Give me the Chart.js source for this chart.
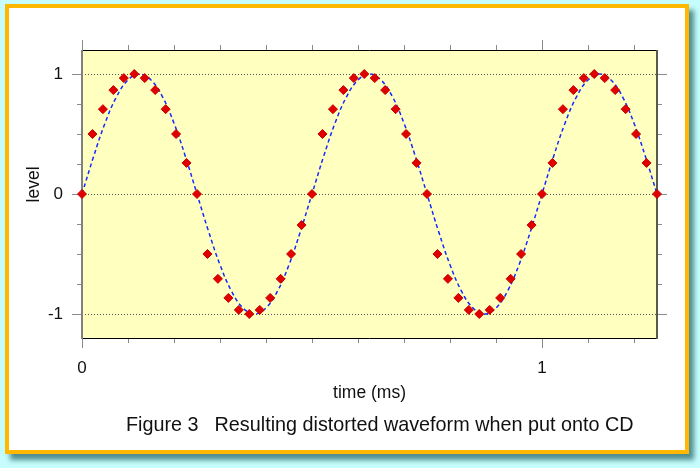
<!DOCTYPE html>
<html>
<head>
<meta charset="utf-8">
<script src="https://cdn.jsdelivr.net/npm/chart.js@4.4.1/dist/chart.umd.min.js"></script>
<style>
  html, body { margin: 0; padding: 0; }
  body { width: 700px; height: 468px; background: #c6fcfc; position: relative; overflow: hidden;
         font-family: 'Liberation Sans', Arial, Helvetica, sans-serif; }
  .frame { position: absolute; left: 5px; top: 4px; width: 676px; height: 442px;
           border: 4px solid #ffb700; background: #fff; box-shadow: 5px 6px 5px #4f8f8f; }
  #wave { position: absolute; left: 0; top: 0; }
  .caption { position: absolute; left: 126px; top: 414px; font-size: 19.8px; line-height: 20px;
             color: #111; white-space: pre; }
</style>
</head>
<body>
<div class="frame"></div>
<canvas id="wave" width="700" height="468"></canvas>
<div class="caption">Figure 3<span style="margin-left:16px">Resulting distorted waveform when put onto CD</span></div>
<script>
// time axis in ms, level is normalised
const sampleStep = 0.5 / 22;   // spacing of the CD samples
const curveStep = 0.025;       // spacing used for the ideal sine

const sampleLevels = [
  0, 0.5, 0.707, 0.866, 0.966, 1, 0.966, 0.866, 0.707, 0.5, 0.259, 0,
  -0.5, -0.707, -0.866, -0.966, -1, -0.966, -0.866, -0.707, -0.5, -0.259, 0,
  0.5, 0.707, 0.866, 0.966, 1, 0.966, 0.866, 0.707, 0.5, 0.259, 0,
  -0.5, -0.707, -0.866, -0.966, -1, -0.966, -0.866, -0.707, -0.5, -0.259, 0,
  0.259, 0.707, 0.866, 0.966, 1, 0.966, 0.866, 0.707, 0.5, 0.259, 0
];

const curveLevels = [
  0, 0.31, 0.59, 0.81, 0.95, 1, 0.95, 0.81, 0.59, 0.31,
  0, -0.31, -0.59, -0.81, -0.95, -1, -0.95, -0.81, -0.59, -0.31,
  0, 0.31, 0.59, 0.81, 0.95, 1, 0.95, 0.81, 0.59, 0.31,
  0, -0.31, -0.59, -0.81, -0.95, -1, -0.95, -0.81, -0.59, -0.31,
  0, 0.31, 0.59, 0.81, 0.95, 1, 0.95, 0.81, 0.59, 0.31, 0
];

const xTicks = [0, 0.1, 0.2, 0.3, 0.4, 0.5, 0.6, 0.7, 0.8, 0.9, 1, 1.1, 1.2];
const xLabels = [0, 1];
const yTicks = [-1, -0.75, -0.5, -0.25, 0, 0.25, 0.5, 0.75, 1];
const yLabels = [-1, 0, 1];
const yTitle = 'level';

const FONT = "'Liberation Sans', Arial, Helvetica, sans-serif";

// plot frame: yellow panel, dotted level lines, tick marks on all four sides
const framePlugin = {
  id: 'frame',
  beforeDraw(chart) {
    const { ctx, chartArea: a } = chart;
    ctx.save();
    ctx.fillStyle = '#ffffbf';
    ctx.fillRect(a.left, a.top, a.right - a.left, a.bottom - a.top);
    ctx.restore();
  },
  beforeDatasetsDraw(chart) {
    const { ctx, chartArea: a, scales } = chart;
    const xs = scales.x, ys = scales.y;
    ctx.save();
    ctx.lineWidth = 1;

    ctx.strokeStyle = '#555';
    ctx.setLineDash([1, 2]);
    yLabels.forEach(v => {
      const y = Math.round(ys.getPixelForValue(v)) + 0.5;
      ctx.beginPath(); ctx.moveTo(a.left, y); ctx.lineTo(a.right, y); ctx.stroke();
    });
    ctx.setLineDash([]);

    ctx.strokeStyle = '#8a8a8a';
    xTicks.forEach(v => {
      const x = Math.round(xs.getPixelForValue(v)) + 0.5;
      const len = xLabels.includes(v) ? 10 : 5;
      ctx.beginPath();
      ctx.moveTo(x, a.top - len); ctx.lineTo(x, a.top);
      ctx.moveTo(x, a.bottom); ctx.lineTo(x, a.bottom + len);
      ctx.stroke();
    });
    yTicks.forEach(v => {
      const y = Math.round(ys.getPixelForValue(v)) + 0.5;
      const len = yLabels.includes(v) ? 10 : 5;
      ctx.beginPath();
      ctx.moveTo(a.left - len, y); ctx.lineTo(a.left, y);
      ctx.moveTo(a.right, y); ctx.lineTo(a.right + len, y);
      ctx.stroke();
    });

    ctx.strokeStyle = '#000';
    ctx.beginPath();
    ctx.moveTo(a.left, a.top + 0.5); ctx.lineTo(a.right, a.top + 0.5);
    ctx.moveTo(a.left, a.bottom + 0.5); ctx.lineTo(a.right, a.bottom + 0.5);
    ctx.stroke();

    ctx.lineWidth = 2;
    ctx.strokeStyle = '#808080';
    ctx.beginPath(); ctx.moveTo(a.left, a.top); ctx.lineTo(a.left, a.bottom + 1); ctx.stroke();
    ctx.strokeStyle = '#5a5a48';
    ctx.beginPath(); ctx.moveTo(a.right, a.top); ctx.lineTo(a.right, a.bottom + 1); ctx.stroke();
    ctx.restore();
  },
  afterDraw(chart) {
    // y title sits a little above the axis middle in the original
    const { ctx, scales } = chart;
    const ys = scales.y;
    ctx.save();
    ctx.translate(34, ys.getPixelForValue(0.08));
    ctx.rotate(-Math.PI / 2);
    ctx.font = '17.5px ' + FONT;
    ctx.fillStyle = '#111';
    ctx.textAlign = 'center';
    ctx.textBaseline = 'middle';
    ctx.fillText(yTitle, 0, 0);
    ctx.restore();
  }
};

new Chart(document.getElementById('wave'), {
  type: 'scatter',
  data: {
    datasets: [
      {
        label: 'sine',
        data: curveLevels.map((v, i) => ({ x: i * curveStep, y: v })),
        showLine: true,
        borderColor: '#1428ff',
        borderWidth: 1.5,
        borderDash: [4, 3],
        tension: 0.4,
        pointRadius: 0,
        fill: false,
        order: 2
      },
      {
        label: 'samples',
        data: sampleLevels.map((v, i) => ({ x: i * sampleStep, y: v })),
        pointStyle: 'rectRot',
        pointRadius: 4.5,
        backgroundColor: '#e00000',
        borderColor: '#c80000',
        borderWidth: 1,
        clip: false,
        order: 1
      }
    ]
  },
  options: {
    responsive: false,
    animation: false,
    layout: { padding: { left: 24, top: 50, right: 43, bottom: 64 } },
    plugins: { legend: { display: false }, tooltip: { enabled: false } },
    scales: {
      x: {
        type: 'linear',
        min: 0,
        max: 1.25,
        afterBuildTicks: s => { s.ticks = xTicks.map(v => ({ value: v })); },
        afterFit: s => { s.height = 66; },
        grid: { display: false, drawTicks: false },
        border: { display: false },
        ticks: {
          autoSkip: false, maxRotation: 0, padding: 20, color: '#111',
          font: { family: FONT, size: 17 },
          callback: v => xLabels.includes(v) ? String(v) : ''
        },
        title: { display: true, text: 'time (ms)', color: '#111', padding: 0,
                 font: { family: FONT, size: 17.5 } }
      },
      y: {
        min: -1.2,
        max: 1.2,
        afterBuildTicks: s => { s.ticks = yTicks.map(v => ({ value: v })); },
        afterFit: s => { s.width = 58; },
        grid: { display: false, drawTicks: false },
        border: { display: false },
        ticks: {
          padding: 19, color: '#111',
          font: { family: FONT, size: 17 },
          callback: v => yLabels.includes(v) ? String(v) : ''
        },
        title: { display: false }
      }
    }
  },
  plugins: [framePlugin]
});
</script>
</body>
</html>
